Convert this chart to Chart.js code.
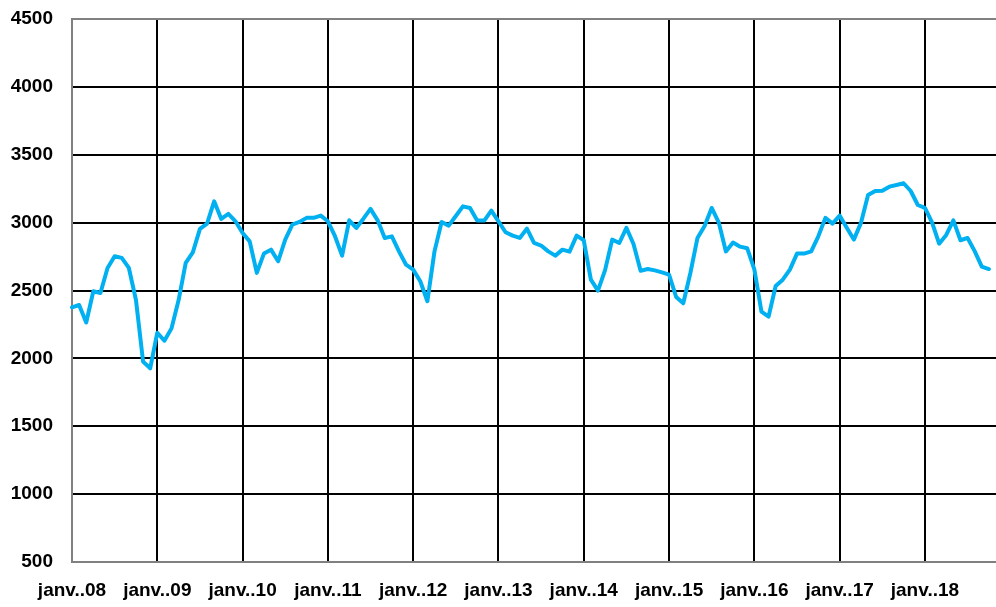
<!DOCTYPE html>
<html>
<head>
<meta charset="utf-8">
<script src="https://cdn.jsdelivr.net/npm/chart.js@4.4.1/dist/chart.umd.min.js"></script>
<style>
  html, body { margin: 0; padding: 0; background: #fff; }
  #wrap { width: 996px; height: 607px; }
</style>
</head>
<body>
<div id="wrap"><canvas id="chart"></canvas></div>
<script>
// mois / années de l'axe
var monthNames = ["janv.", "févr.", "mars", "avr.", "mai", "juin", "juil.", "août", "sept.", "oct.", "nov.", "déc."];
var years = ["08", "09", "10", "11", "12", "13", "14", "15", "16", "17", "18"];

// valeurs mensuelles, janv. 08 -> oct. 18 (nov. 18 vide)
var values = [
  2376, 2393, 2264, 2494, 2482, 2666, 2752, 2740, 2666, 2430, 1976, 1927,
  2189, 2130, 2221, 2430, 2703, 2781, 2954, 2993, 3157, 3027, 3064, 3010,
  2924, 2862, 2630, 2772, 2801, 2715, 2875, 2985, 3005, 3035, 3035, 3052,
  3010, 2900, 2757, 3017, 2961, 3029, 3101, 3017, 2887, 2899, 2788, 2690,
  2654, 2568, 2421, 2788, 3005, 2978, 3049, 3120, 3108, 3015, 3015, 3088,
  3010, 2929, 2904, 2887, 2956, 2850, 2831, 2788, 2757, 2801, 2786, 2904,
  2870, 2580, 2499, 2650, 2875, 2850, 2961, 2843, 2646, 2658, 2648, 2634,
  2617, 2452, 2406, 2629, 2887, 2975, 3108, 3000, 2788, 2853, 2823, 2811,
  2656, 2344, 2307, 2533, 2580, 2654, 2772, 2772, 2788, 2899, 3035, 2993,
  3052, 2963, 2875, 2998, 3204, 3233, 3235, 3265, 3277, 3290, 3233, 3130,
  3108, 3002, 2845, 2909, 3017, 2870, 2887, 2790, 2676, 2658, null
];

var yMin = 500, yMax = 4500, yStep = 500;

var categories = [];
years.forEach(function (y) {
  monthNames.forEach(function (m) {
    if (categories.length < values.length) categories.push(m + "." + y);
  });
});

var font = { family: "'Liberation Sans', Arial, sans-serif", size: 19, weight: "bold" };

new Chart(document.getElementById("chart"), {
  type: "line",
  data: {
    labels: categories,
    datasets: [{
      data: values,
      borderColor: "#00B0F0",
      borderWidth: 4,
      borderJoinStyle: "round",
      borderCapStyle: "round",
      pointRadius: 0,
      tension: 0,
      spanGaps: false
    }]
  },
  options: {
    responsive: true,
    maintainAspectRatio: false,
    animation: false,
    layout: { padding: { top: 19, right: 0, left: 0, bottom: 0 } },
    plugins: { legend: { display: false }, tooltip: { enabled: false } },
    scales: {
      x: {
        type: "category",
        offset: false,
        grid: {
          drawTicks: false,
          lineWidth: 2,
          color: function (c) { return c.index > 0 && c.index % 12 === 0 ? "#000" : "transparent"; }
        },
        border: { color: "#808080", width: 2 },
        ticks: {
          autoSkip: false, maxRotation: 0, minRotation: 0, padding: 17,
          color: "#000", font: font,
          callback: function (v, i) { return i % 12 === 0 ? categories[i] : ""; }
        },
        afterFit: function (s) { s.height = 45; s.paddingLeft = 0; s.paddingRight = 0; }
      },
      y: {
        min: yMin, max: yMax,
        grid: {
          drawTicks: false,
          lineWidth: 2,
          color: function (c) {
            if (c.tick.value === yMax) return "#808080";
            if (c.tick.value === yMin) return "transparent";
            return "#000";
          }
        },
        border: { color: "#808080", width: 2 },
        ticks: {
          stepSize: yStep, padding: 19, color: "#000", font: font,
          callback: function (v) { return String(v); }
        },
        afterFit: function (s) { s.width = 72; s.paddingTop = 0; s.paddingBottom = 0; }
      }
    }
  }
});
</script>
</body>
</html>
